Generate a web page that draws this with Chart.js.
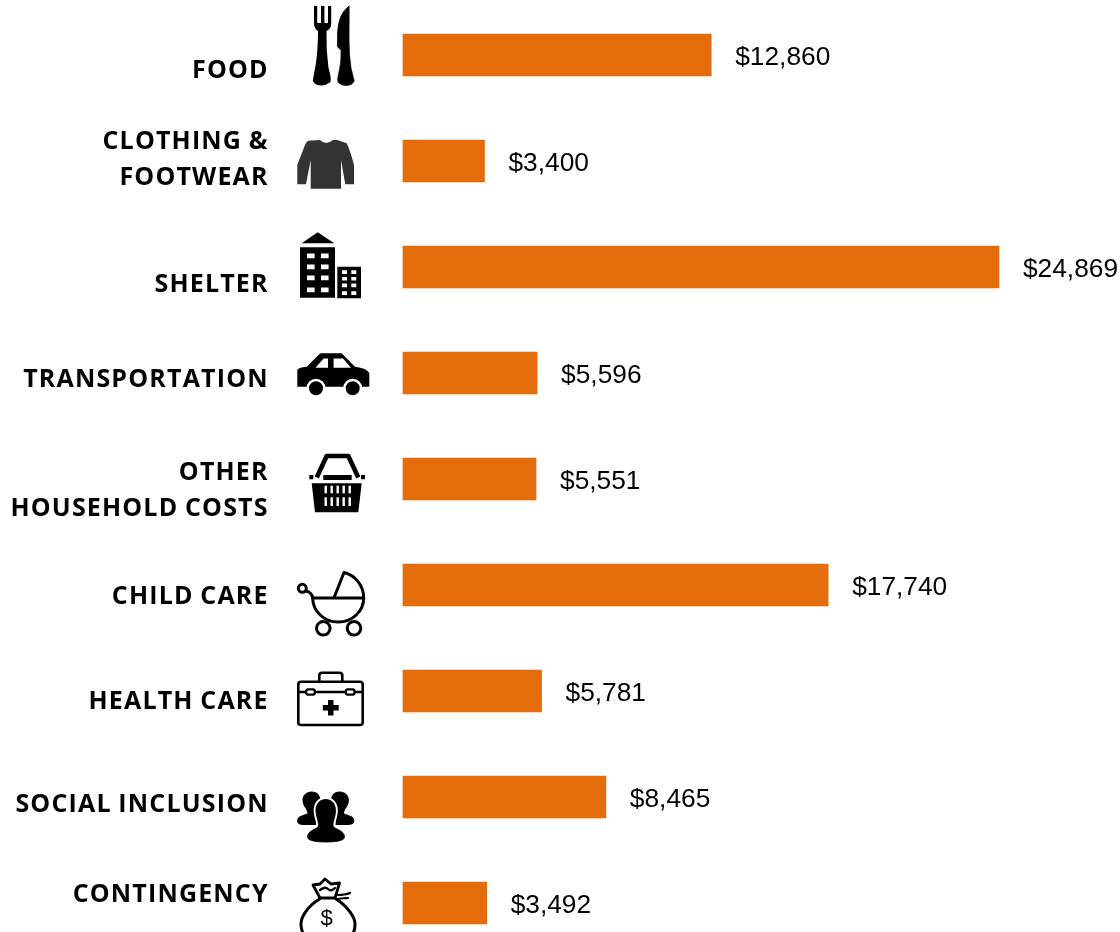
<!DOCTYPE html>
<html><head><meta charset="utf-8">
<style>html,body{margin:0;padding:0;background:#fff;overflow:hidden}canvas{display:block}</style>
<script src="https://cdn.jsdelivr.net/npm/chart.js@4"></script>
</head><body>
<canvas id="c" width="1120" height="932"></canvas>
<script>
const categories = [["FOOD"],["CLOTHING &","FOOTWEAR"],["SHELTER"],["TRANSPORTATION"],["OTHER","HOUSEHOLD COSTS"],["CHILD CARE"],["HEALTH CARE"],["SOCIAL INCLUSION"],["CONTINGENCY"]];
const costs = [12860,3400,24869,5596,5551,17740,5781,8465,3492];
const labelShift = [23,-12,25,14,1,19,18,15,-1];

const P = s => new Path2D(s);
function drawIcons(ctx){
  ctx.save();
  ctx.lineJoin='round';ctx.lineCap='round';
  const fill=(s,c='#000',r)=>{ctx.fillStyle=c;ctx.fill(P(s),r||'nonzero');};
  const stroke=(s,w=2.5,c='#000')=>{ctx.strokeStyle=c;ctx.lineWidth=w;ctx.stroke(P(s));};
  const circ=(x,y,r)=>`M${x+r} ${y}A${r} ${r} 0 1 0 ${x-r} ${y}A${r} ${r} 0 1 0 ${x+r} ${y}Z`;
  // cutlery
  const fork='M314 6H317.2V23H321V6H324.4V23H328V6H331.2V23Q331.2 29 326.5 31Q326 50 328.5 68Q331.5 78 330.5 82Q326 85.5 321.5 85.5Q315 85.5 312.8 81Q313.5 76 315.5 66Q318 50 318 31Q314 29 314 23Z';
  fill(fork);
  const knife='M349 6Q338 14 337.5 34L337.5 47L341 50Q341.5 62 339 72Q337 79 338 82Q341 85.5 346 85.5Q352 85.5 354.2 81Q353 76 351 68Q349 55 349 40Z';
  fill(knife);stroke(knife,0.7);
  // sweater
  fill('M320 140Q326 146 333 140L337.3 140L346.7 143.3Q350 150 354 165V184.3H345.3L341 160V188.7H310.7V160L306 184.3H297.3V165L305 145Q306 142 308.3 140.7Z','#333');
  // buildings
  fill('M317.7 232.3L334.3 243.3H301.7Z');
  let b='M300 247.3H335V297.7H300Z';
  for(const x of [307,321])for(const y of [253.5,264.5,275.5,287.5])b+=`M${x} ${y}h7.6v4.8h-7.6Z`;
  fill(b,'#000','evenodd');
  let s='M337.3 266.7H361V298.3H337.3Z';
  for(const x of [342,351.3])for(const y of [270.3,277,283.6,291.3])s+=`M${x} ${y}h5v3.6h-5Z`;
  fill(s,'#000','evenodd');
  // car
  fill('M297.3 370Q298 367.5 306.7 366.7L319.3 354.3Q320 353.3 321.7 353.3H341.7L355 366.7Q367 368 369.3 373.3V386.7H297.3Z');
  fill('M315.5 367.7L323.6 358.5H328V367.7ZM333.6 358.5H343L351 367.7H333.6Z','#fff');
  fill(circ(316,388.3,9.5)+circ(352.7,388.3,9.5),'#fff');
  fill('M297 388.5H370V397H297Z','#fff');
  fill(circ(316,388.3,7)+circ(352.7,388.3,7));
  // basket
  fill('M311.7 483.3H361.7L358.3 512.3H315Z');
  for(const x of [324.5,330.5,336.5,342.5,348.5])for(const [y,h] of [[485.7,7.6],[497.3,8.7]])fill(`M${x} ${y}h2.4v${h}h-2.4Z`,'#fff');
  ctx.lineCap='butt';
  stroke('M316.7 477.5L326.7 456H348.3L358.3 477.5',4.6);
  ctx.lineCap='round';
  fill('M323.3 475H351.7V480H323.3ZM309.3 475H313.3V479.3H309.3ZM361 475H365V479.3H361Z');
  // stroller
  stroke(circ(302.3,588.3,4),3);
  stroke('M306 591Q311.5 592 312.7 598A25.5 24 0 0 0 363.7 598',3);
  stroke('M312.7 598H363.7',3);
  stroke('M344 572.5A26 26 0 0 1 363.7 598M344 572.5L334.3 597',3);
  stroke(circ(323.3,628.3,6.8)+circ(354,628.3,6.8),3);
  // med kit
  stroke('M301 681.7H360Q362.7 681.7 362.7 684.5V722.5Q362.7 725 360 725H301Q298.3 725 298.3 722.5V684.5Q298.3 681.7 301 681.7Z',2.6);
  stroke('M319.3 681V675.5Q319.3 672.7 322 672.7H339.5Q342.3 672.7 342.3 675.5V681',2.6);
  stroke('M298.3 692H306M315 692H345.7M354.7 692H362.7',2.6);
  stroke('M308 689.3H313Q315 689.3 315 692Q315 694.7 313 694.7H308Q306 694.7 306 692Q306 689.3 308 689.3ZM347.7 689.3H352.7Q354.7 689.3 354.7 692Q354.7 694.7 352.7 694.7H347.7Q345.7 694.7 345.7 692Q345.7 689.3 347.7 689.3Z',2.2);
  fill('M328 700H333.5V705H338.7V710.5H333.5V715.5H328V710.5H322.8V705H328Z');
  // people
  const back='M311.5 791.5C318 791.5 321 796 320 802L316 816V825H303C298 825 296.8 822 297.2 820C298 815 306 815 307.5 813C306.5 808 302.5 806 302.5 800C302.5 795 307 791.5 311.5 791.5Z';
  fill(back);
  ctx.save();ctx.translate(651.4,0);ctx.scale(-1,1);fill(back);ctx.restore();
  const front='M325.7 799.5C333.5 799.5 336 806 335.5 812C335 818 332.5 822 333 826C333.5 829 344.5 830 344.5 837C344.5 841 335 842 326 842C317 842 307.5 841 307.5 837C307.5 830 318 829 318.5 826C319 822 316.5 818 316 812C315.5 806 318 799.5 325.7 799.5Z';
  stroke(front,4.5,'#fff');
  fill(front);stroke(front,0.8);
  // money bag
  stroke('M319.5 899C308 906 300.5 917 301 925C301.5 932 305 938 310 940H346C351 938 355 932 355 925C355.5 917 347 906 336 899',3);
  stroke('M320 898L313 885L320 884L325 879L331 884L339.5 883L335 898Z',2.8);
  stroke('M320 890Q325 886 328 889T335 888',2.4);
  stroke('M337 895Q345 895 350 893M337 899Q344 898 348 898',2.2);
  ctx.fillStyle='#000';ctx.font='22px "Liberation Sans"';ctx.textAlign='center';ctx.textBaseline='alphabetic';
  ctx.fillText('$',326.7,925);
  ctx.restore();
}

const annotate = {
  id:'annotate',
  afterDatasetsDraw(chart){
    const {ctx,scales:{x,y}} = chart;
    ctx.save();
    ctx.fillStyle='#000';
    ctx.textBaseline='middle';ctx.textAlign='left';
    ctx.font='26.3px "Liberation Sans"';
    costs.forEach((v,i)=>ctx.fillText('$'+v.toLocaleString('en-US'),x.getPixelForValue(v)+24,y.getPixelForValue(i)+3));
    ctx.font='700 25px "Open Sans"';
    ctx.letterSpacing='1.17px';
    ctx.wordSpacing='-1px';
    ctx.textBaseline='alphabetic';ctx.textAlign='right';
    categories.forEach((lines,i)=>{
      const base=y.getPixelForValue(i)+labelShift[i];
      lines.forEach((t,k)=>ctx.fillText(t,268.7,base+k*36));
    });
    ctx.restore();
    drawIcons(ctx);
  }
};

new Chart(document.getElementById('c'),{
  type:'bar',
  data:{labels:categories.map(l=>l.join(' ')),datasets:[{data:costs,backgroundColor:'#E46C0A',barThickness:42,borderWidth:0,clip:false}]},
  options:{
    indexAxis:'y',responsive:false,animation:false,
    layout:{padding:{left:403,right:22,top:55,bottom:29}},
    plugins:{legend:{display:false},tooltip:{enabled:false},title:{display:false}},
    scales:{
      x:{display:false,min:0,max:29000},
      y:{display:false,offset:false,grid:{display:false}}
    }
  },
  plugins:[annotate]
});
</script>
</body></html>
